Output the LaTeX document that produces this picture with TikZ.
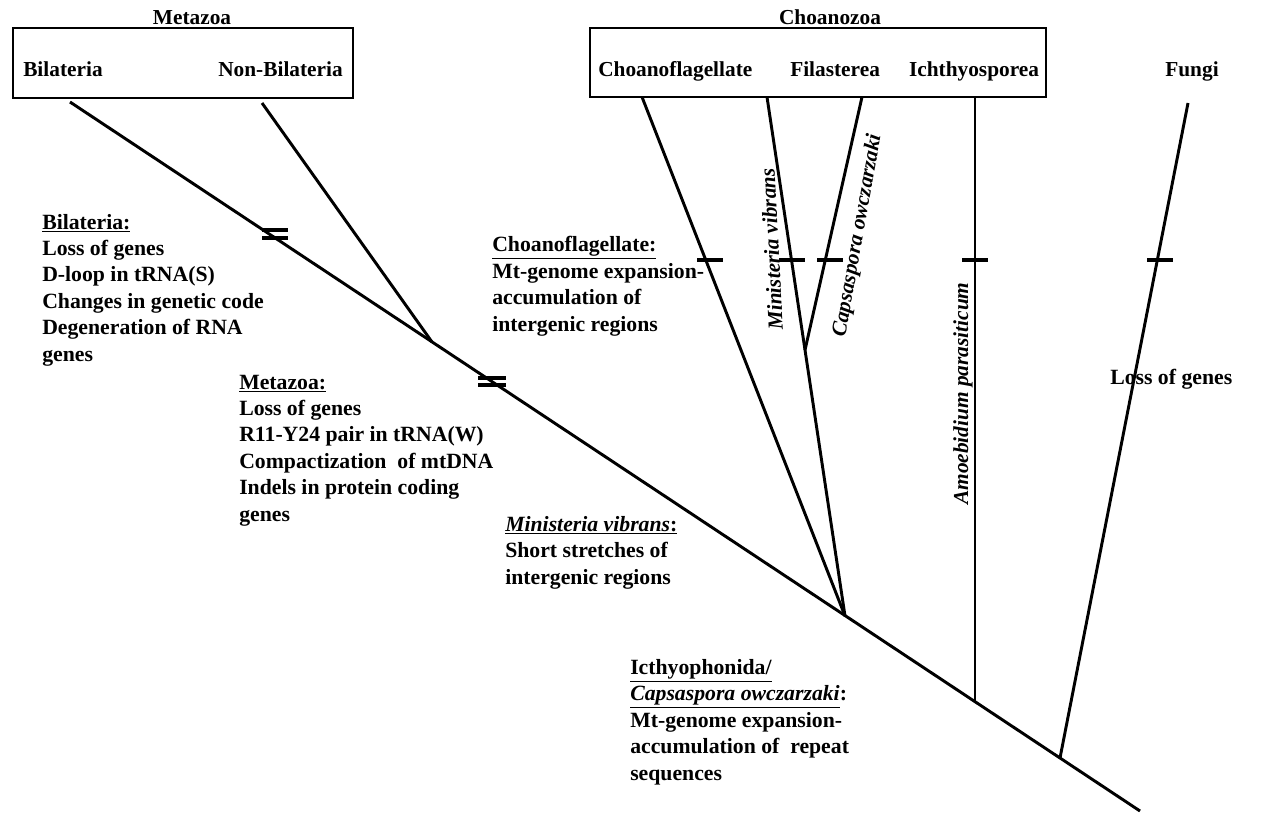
\documentclass[tikz,border=0pt]{standalone}
\usepackage{fontspec}
\setmainfont{Liberation Serif}
\usetikzlibrary{calc}
\begin{document}
\begin{tikzpicture}[x=0.75pt,y=-0.75pt,
  br/.style={line width=2.2pt},
  tk/.style={line width=2.4pt},
  box/.style={draw, line width=1.2pt, inner sep=0pt},
  lbl/.style={font=\fontsize{16.3}{19.8}\selectfont\bfseries, inner sep=0pt, align=left, anchor=base west},
  ttl/.style={font=\fontsize{16}{18}\selectfont\bfseries, inner sep=0pt, anchor=base},
  rot/.style={font=\fontsize{16}{18}\selectfont\bfseries\itshape, inner sep=0pt, anchor=base west}]

\useasboundingbox (0,0) rectangle (1276,820);

% boxes
\node[box, minimum width=255pt, minimum height=52.5pt] (metabox) at (183,63) {};
\node[box, minimum width=342pt, minimum height=51.75pt] (choabox) at (818,62.5) {};

% titles and leaf labels
\node[ttl] (tMeta) at (192,25) {Metazoa};
\node[ttl] (tChoa) at (830,25) {Choanozoa};
\node[ttl, anchor=base west] (lBil) at (23,77) {Bilateria};
\node[ttl, anchor=base east] (lNon) at (343,77) {Non-Bilateria};
\node[ttl, anchor=base west] (lChf) at (598,77) {Choanoflagellate};
\node[ttl, anchor=base west] (lFil) at (790,77) {Filasterea};
\node[ttl] (lIch) at (974,77) {Ichthyosporea};
\node[ttl] (lFun) at (1192,77) {Fungi};

% tree coordinates
\coordinate (mstart) at (70,102);
\coordinate (mend) at (1140,811);
\coordinate (jMeta) at (432,342);
\coordinate (jChoa) at (845,616);
\coordinate (jAmo) at (975,702);
\coordinate (jFun) at (1060,758);
\coordinate (tNon) at (262,103);
\coordinate (tChf) at (642,97);
\coordinate (tMin) at (767,97);
\coordinate (tCap) at (862,97);
\coordinate (jCap) at (805,350);
\coordinate (tIch) at (975,97);
\coordinate (tFun) at (1188,103);

\draw[br] (mstart) -- (mend);
\draw[br] (tNon) -- (jMeta);
\draw[br] (tChf) -- (jChoa);
\draw[br] (tMin) -- (jCap) -- (jChoa);
\draw[br] (tCap) -- (jCap);
\draw[br] (tIch) -- (jAmo);
\draw[br] (tFun) -- (jFun);

% ticks
\draw[tk] (262,230) -- (288,230);
\draw[tk] (262,238) -- (288,238);
\draw[tk] (478,378) -- (506,378);
\draw[tk] (478,385) -- (506,385);
\draw[tk] (697,260) -- (723,260);
\draw[tk] (779,260) -- (805,260);
\draw[tk] (817,260) -- (843,260);
\draw[tk] (962,260) -- (988,260);
\draw[tk] (1147,260) -- (1173,260);

% text blocks (base anchor = baseline of last line)
\node[lbl] (bBil) at (42,361) {\underline{Bilateria:}\\Loss of genes\\D-loop in tRNA(S)\\Changes in genetic code\\Degeneration of RNA\\genes};
\node[lbl] (bMeta) at (239,521) {\underline{Metazoa:}\\Loss of genes\\R11-Y24 pair in tRNA(W)\\Compactization\ \ of mtDNA\\Indels in protein coding\\genes};
\node[lbl] (bChf) at (492,331) {\underline{Choanoflagellate:}\\Mt-genome expansion-\\accumulation of\\intergenic regions};
\node[lbl] (bMin) at (505,584) {\underline{\textit{Ministeria vibrans}:}\\Short stretches of\\intergenic regions};
\node[lbl] (bIch) at (630,780) {\underline{Icthyophonida/}\\\underline{\textit{Capsaspora owczarzaki}}:\\Mt-genome expansion-\\accumulation of\ \ repeat\\sequences};
\node[lbl] (lLoss) at (1110,384) {Loss of genes};

% rotated species names
\node[rot, rotate=93] (rMin) at (783,330) {Ministeria vibrans};
\node[rot, rotate=80] (rCap) at (845,338) {Capsaspora owczarzaki};
\node[rot, rotate=90] (rAmo) at (968,505) {Amoebidium parasiticum};
\end{tikzpicture}
\end{document}
